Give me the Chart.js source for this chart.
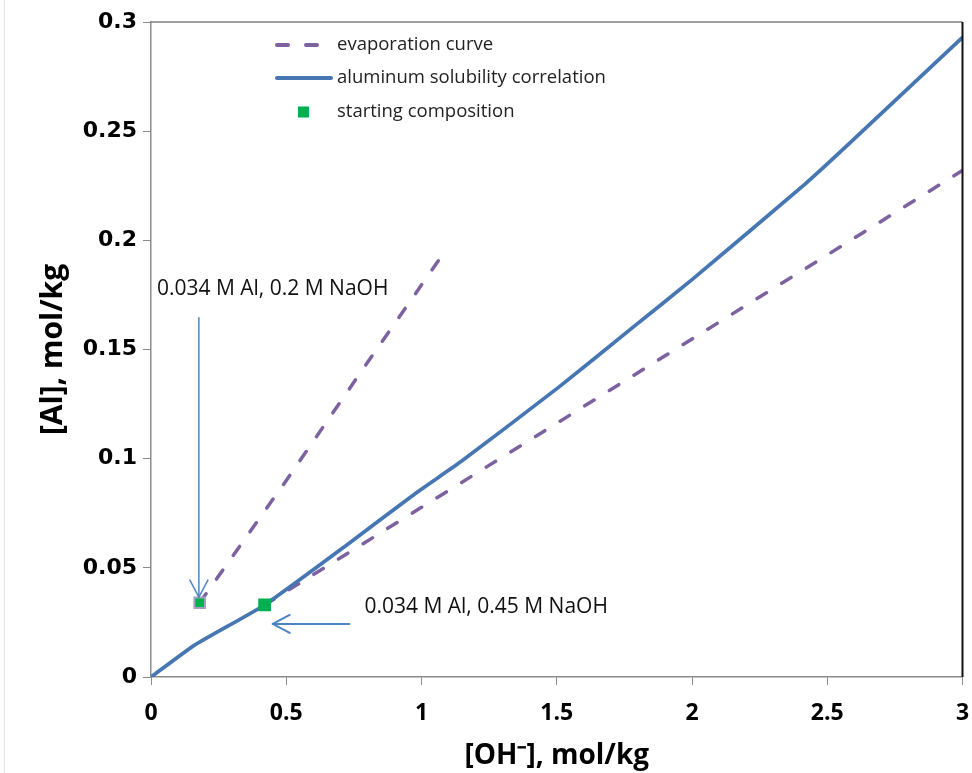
<!DOCTYPE html>
<html>
<head>
<meta charset="utf-8">
<script src="https://cdn.jsdelivr.net/npm/chart.js@4.4.1/dist/chart.umd.min.js"></script>
<style>
  html, body { margin: 0; padding: 0; background: #fff; }
  #wrap { width: 972px; height: 773px; }
</style>
</head>
<body>
<div id="wrap"><canvas id="chart" width="972" height="773"></canvas></div>
<script>
// axis ticks
const xTicks = [0, 0.5, 1, 1.5, 2, 2.5, 3];
const yTicks = [0, 0.05, 0.1, 0.15, 0.2, 0.25, 0.3];

// evaporation curve, starting at 0.2 M NaOH
const evapLowX = [0.18, 0.5, 0.8, 1.07];
const evapLowY = [0.034, 0.090, 0.144, 0.192];

// evaporation curve, starting at 0.45 M NaOH
const evapHighX = [0.42, 1, 1.5, 2, 2.5, 3];
const evapHighY = [0.033, 0.0777, 0.1162, 0.1548, 0.1933, 0.232];

// aluminum solubility correlation
const solubilityX = [0, 0.16, 0.42, 0.73, 0.98, 1.15, 1.51, 1.78, 2.0, 2.42, 2.57, 3.0];
const solubilityY = [0, 0.0145, 0.033, 0.061, 0.0843, 0.099, 0.133, 0.160, 0.182, 0.226, 0.243, 0.293];

// starting compositions
const startX = [0.18, 0.42];
const startY = [0.034, 0.033];

const legendNames = ['evaporation curve', 'aluminum solubility correlation', 'starting composition'];

const purple = '#7d62a0';
const blue = '#4677b3';
const green = '#00b050';
const arrowBlue = '#4f84c4';

function toPoints(xs, ys) {
    return xs.map((x, i) => ({ x: x, y: ys[i] }));
}

// text notes and arrows, placed in data units
const notes = [
    { text: '0.034 M Al, 0.2 M NaOH', x: 0.022, y: 0.1775 },
    { text: '0.034 M Al, 0.45 M NaOH', x: 0.789, y: 0.032 }
];
const arrows = [
    { x1: 0.177, y1: 0.1645, x2: 0.177, y2: 0.0366, width: 1.5 },
    { x1: 0.733, y1: 0.0243, x2: 0.450, y2: 0.0243, width: 2 }
];

const notesPlugin = {
    id: 'notes',
    afterDatasetsDraw(chart) {
        const ctx = chart.ctx;
        const xs = chart.scales.x;
        const ys = chart.scales.y;
        ctx.save();
        arrows.forEach(a => {
            const x1 = xs.getPixelForValue(a.x1), y1 = ys.getPixelForValue(a.y1);
            const x2 = xs.getPixelForValue(a.x2), y2 = ys.getPixelForValue(a.y2);
            const ang = Math.atan2(y2 - y1, x2 - x1);
            const len = 17, half = 9;
            ctx.strokeStyle = arrowBlue;
            ctx.lineWidth = a.width;
            ctx.lineCap = 'round';
            ctx.lineJoin = 'round';
            ctx.beginPath();
            ctx.moveTo(x1, y1);
            ctx.lineTo(x2, y2);
            ctx.stroke();
            const bx = x2 - len * Math.cos(ang), by = y2 - len * Math.sin(ang);
            const px = -Math.sin(ang) * half, py = Math.cos(ang) * half;
            ctx.beginPath();
            ctx.moveTo(bx + px, by + py);
            ctx.lineTo(x2, y2);
            ctx.lineTo(bx - px, by - py);
            ctx.stroke();
        });
        ctx.fillStyle = '#111';
        ctx.font = '21px "Open Sans"';
        ctx.textAlign = 'left';
        ctx.textBaseline = 'middle';
        notes.forEach(n => {
            ctx.fillText(n.text, xs.getPixelForValue(n.x), ys.getPixelForValue(n.y));
        });
        ctx.restore();
    }
};

const framePlugin = {
    id: 'frame',
    afterDraw(chart) {
        const ctx = chart.ctx;
        const area = chart.chartArea;
        ctx.save();
        ctx.lineWidth = 1.5;
        ctx.strokeStyle = '#7f7f7f';
        ctx.beginPath();
        ctx.moveTo(area.left, area.top);
        ctx.lineTo(area.right, area.top);
        ctx.stroke();
        ctx.strokeStyle = '#111';
        ctx.lineWidth = 2;
        ctx.beginPath();
        ctx.moveTo(area.right, area.top);
        ctx.lineTo(area.right, area.bottom);
        ctx.stroke();
        // faint outer chart border on the left
        ctx.strokeStyle = '#e3e3e3';
        ctx.lineWidth = 1;
        ctx.beginPath();
        ctx.moveTo(4.5, 0);
        ctx.lineTo(4.5, chart.height);
        ctx.stroke();
        ctx.restore();
    }
};

const legendPlugin = {
    id: 'insideLegend',
    afterDraw(chart) {
        const ctx = chart.ctx;
        const area = chart.chartArea;
        const left = area.left + 124;
        const rows = [area.top + 23, area.top + 56, area.top + 90];
        ctx.save();
        ctx.lineCap = 'round';
        // dashed sample
        ctx.strokeStyle = purple;
        ctx.lineWidth = 4;
        ctx.setLineDash([11, 18]);
        ctx.beginPath();
        ctx.moveTo(left + 2, rows[0]);
        ctx.lineTo(left + 46, rows[0]);
        ctx.stroke();
        ctx.setLineDash([]);
        // solid sample
        ctx.strokeStyle = blue;
        ctx.beginPath();
        ctx.moveTo(left + 2, rows[1]);
        ctx.lineTo(left + 56, rows[1]);
        ctx.stroke();
        // marker sample
        ctx.fillStyle = green;
        ctx.fillRect(left + 23, rows[2] - 5.5, 11, 11);
        ctx.fillStyle = '#222';
        ctx.font = '18.5px "Open Sans"';
        ctx.textBaseline = 'middle';
        legendNames.forEach((name, i) => {
            ctx.fillText(name, left + 62, rows[i]);
        });
        ctx.restore();
    }
};

const ctx = document.getElementById('chart').getContext('2d');
const chart = new Chart(ctx, {
    type: 'scatter',
    data: {
        datasets: [
            {
                label: legendNames[2],
                data: toPoints(startX, startY),
                showLine: false,
                pointStyle: 'rect',
                pointRadius: [7.5, 9],
                pointBackgroundColor: green,
                pointBorderColor: ['#a79fc6', green],
                pointBorderWidth: [2, 0]
            },
            {
                label: legendNames[1],
                data: toPoints(solubilityX, solubilityY),
                showLine: true,
                borderColor: blue,
                borderWidth: 3.75,
                pointRadius: 0,
                tension: 0.15
            },
            {
                label: legendNames[0],
                data: toPoints(evapLowX, evapLowY),
                showLine: true,
                borderColor: purple,
                borderWidth: 3.5,
                borderDash: [11, 18],
                borderCapStyle: 'round',
                pointRadius: 0
            },
            {
                label: legendNames[0],
                data: toPoints(evapHighX, evapHighY),
                showLine: true,
                borderColor: purple,
                borderWidth: 3.5,
                borderDash: [11, 18],
                borderCapStyle: 'round',
                pointRadius: 0
            }
        ]
    },
    options: {
        responsive: false,
        animation: false,
        layout: {
            padding: { top: 22, right: 7, left: 0, bottom: 0 }
        },
        plugins: {
            legend: { display: false },
            tooltip: { enabled: false }
        },
        scales: {
            x: {
                type: 'linear',
                min: 0,
                max: 3,
                afterBuildTicks: scale => { scale.ticks = xTicks.map(v => ({ value: v })); },
                afterFit: scale => {
                    scale.height = 96;
                    scale.paddingLeft = 0;
                    scale.paddingRight = 0;
                },
                ticks: {
                    color: '#000',
                    padding: 15,
                    font: { family: 'Open Sans', weight: 'bold', size: 23 },
                    callback: value => String(value)
                },
                grid: {
                    drawOnChartArea: false,
                    drawTicks: true,
                    tickLength: 8,
                    color: '#8a8a8a'
                },
                border: { color: '#8a8a8a', width: 1.5 },
                title: {
                    display: true,
                    text: '[OH\u207B], mol/kg',
                    color: '#000',
                    font: { family: 'Open Sans', weight: 'bold', size: 28 },
                    padding: { top: 0, bottom: 0 }
                }
            },
            y: {
                type: 'linear',
                min: 0,
                max: 0.3,
                afterBuildTicks: scale => { scale.ticks = yTicks.map(v => ({ value: v })); },
                afterFit: scale => { scale.width = 151; },
                ticks: {
                    color: '#000',
                    padding: 6,
                    font: { family: 'DejaVu Sans', weight: 'bold', size: 22 },
                    callback: value => String(value)
                },
                grid: {
                    drawOnChartArea: false,
                    drawTicks: true,
                    tickLength: 8,
                    color: '#8a8a8a'
                },
                border: { color: '#8a8a8a', width: 1.5 },
                title: {
                    display: true,
                    text: '[Al], mol/kg',
                    color: '#000',
                    font: { family: 'Open Sans', weight: 'bold', size: 30 },
                    padding: { top: 35, bottom: 0 }
                }
            }
        }
    },
    plugins: [notesPlugin, framePlugin, legendPlugin]
});
</script>
</body>
</html>
